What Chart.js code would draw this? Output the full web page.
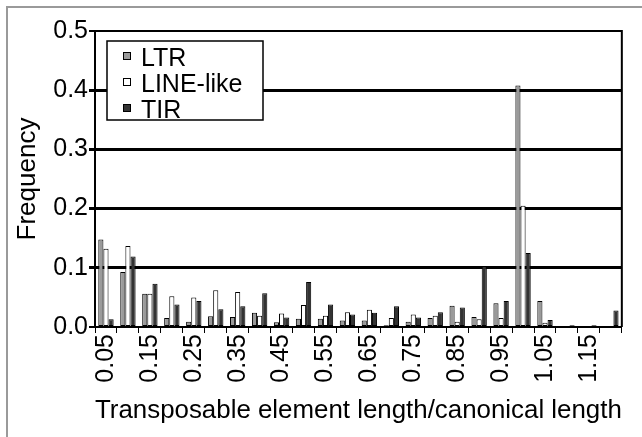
<!DOCTYPE html>
<html>
<head>
<meta charset="utf-8">
<script src="https://cdn.jsdelivr.net/npm/chart.js@4.4.1/dist/chart.umd.min.js"></script>
<style>
  html, body { margin: 0; padding: 0; background: #fff; }
  #wrap { width: 642px; height: 437px; }
</style>
</head>
<body>
<div id="wrap"><canvas id="chart"></canvas></div>
<script>
// length ratio bins
const categories = ["0.05", "0.10", "0.15", "0.20", "0.25", "0.30", "0.35", "0.40",
  "0.45", "0.50", "0.55", "0.60", "0.65", "0.70", "0.75", "0.80", "0.85", "0.90",
  "0.95", "1.00", "1.05", "1.10", "1.15", "1.20"];

const ltrValues = [0.148, 0.093, 0.056, 0.015, 0.009, 0.018, 0.017, 0.024, 0.008, 0.014,
  0.014, 0.011, 0.011, 0.003, 0.009, 0.015, 0.036, 0.017, 0.040, 0.408, 0.044, 0.001,
  0.001, 0.001];
const lineValues = [0.132, 0.137, 0.056, 0.052, 0.050, 0.062, 0.059, 0.019, 0.023, 0.037,
  0.019, 0.025, 0.029, 0.015, 0.021, 0.019, 0.009, 0.013, 0.015, 0.205, 0.007, 0.001,
  0.001, 0.000];
const tirValues = [0.013, 0.119, 0.073, 0.038, 0.044, 0.030, 0.035, 0.057, 0.016, 0.076,
  0.038, 0.021, 0.024, 0.035, 0.016, 0.025, 0.033, 0.103, 0.044, 0.125, 0.012, 0.003,
  0.003, 0.028];

const yTicks = [0, 0.1, 0.2, 0.3, 0.4, 0.5];

const FONT = "'Liberation Sans', Arial, Helvetica, sans-serif";

// outer grey frame, plot border and the boxed legend inside the plot
const framePlugin = {
  id: "frame",
  beforeDraw(chart) {
    const ctx = chart.ctx;
    ctx.save();
    ctx.fillStyle = "#fff";
    ctx.fillRect(0, 0, chart.width, chart.height);
    ctx.strokeStyle = "#9a9a9a";
    ctx.lineWidth = 2;
    ctx.strokeRect(7, 7, chart.width + 20, chart.height + 20);
    ctx.restore();
  },
  afterDraw(chart) {
    const ctx = chart.ctx;
    const a = chart.chartArea;
    ctx.save();
    ctx.strokeStyle = "#000";
    ctx.lineWidth = 2;
    ctx.beginPath();
    ctx.moveTo(a.left, a.top);
    ctx.lineTo(a.right, a.top);
    ctx.lineTo(a.right, a.bottom);
    ctx.stroke();

    // legend
    const bx = 107, by = 41, bw = 156, bh = 79;
    ctx.fillStyle = "#fff";
    ctx.fillRect(bx, by, bw, bh);
    ctx.lineWidth = 1.5;
    ctx.strokeRect(bx, by, bw, bh);
    ctx.font = "25px " + FONT;
    ctx.textBaseline = "middle";
    chart.data.datasets.forEach((ds, i) => {
      const cy = by + 15 + i * 26;
      ctx.fillStyle = ds.backgroundColor;
      ctx.fillRect(123, cy - 4, 8, 8);
      ctx.lineWidth = 1;
      ctx.strokeStyle = "#000";
      ctx.strokeRect(123.5, cy - 3.5, 7, 7);
      ctx.fillStyle = "#000";
      ctx.fillText(ds.label, 141, cy + 3);
    });
    ctx.restore();
  }
};

new Chart(document.getElementById("chart"), {
  type: "bar",
  data: {
    labels: categories,
    datasets: [
      { label: "LTR", data: ltrValues, backgroundColor: "#9a9a9a" },
      { label: "LINE-like", data: lineValues, backgroundColor: "#ffffff" },
      { label: "TIR", data: tirValues, backgroundColor: "#333333" },
    ].map((ds) => Object.assign(ds, {
      borderColor: "#000",
      borderWidth: 1,
      borderSkipped: false,
      categoryPercentage: 0.7,
      barPercentage: 1.0,
    })),
  },
  options: {
    responsive: true,
    maintainAspectRatio: false,
    animation: false,
    layout: { padding: { top: 31, right: 7, left: 0, bottom: 0 } },
    plugins: {
      legend: { display: false },
      tooltip: { enabled: false },
    },
    scales: {
      x: {
        grid: {
          offset: true,
          drawOnChartArea: false,
          drawTicks: true,
          tickLength: 6,
          color: "#000",
          lineWidth: 1,
        },
        border: { display: true, color: "#000", width: 2 },
        ticks: {
          autoSkip: false,
          minRotation: 90,
          maxRotation: 90,
          padding: 1,
          color: "#000",
          font: { family: FONT, size: 25 },
          callback: (v, i) => (i % 2 === 0 ? categories[i] : ""),
        },
        title: {
          display: true,
          text: "Transposable element length/canonical length",
          color: "#000",
          font: { family: FONT, size: 26 },
          padding: { top: 0, bottom: 11 },
        },
        afterFit(scale) { scale.height = 110; },
      },
      y: {
        min: 0,
        max: 0.5,
        afterBuildTicks(scale) {
          scale.ticks = yTicks.map((v) => ({ value: v }));
        },
        grid: {
          color: "#000",
          lineWidth: (c) => (c.tick && c.tick.value > 0 && c.tick.value < 0.5 ? 3 : 2),
          tickLength: 6,
        },
        border: { display: true, color: "#000", width: 2 },
        ticks: {
          padding: 1,
          color: "#000",
          font: { family: FONT, size: 25 },
          callback: (v) => v.toFixed(1),
        },
        title: {
          display: true,
          text: "Frequency",
          color: "#000",
          font: { family: FONT, size: 26 },
          padding: { top: 12, bottom: 0 },
        },
        afterFit(scale) { scale.width = 95; },
      },
    },
  },
  plugins: [framePlugin],
});
</script>
</body>
</html>
